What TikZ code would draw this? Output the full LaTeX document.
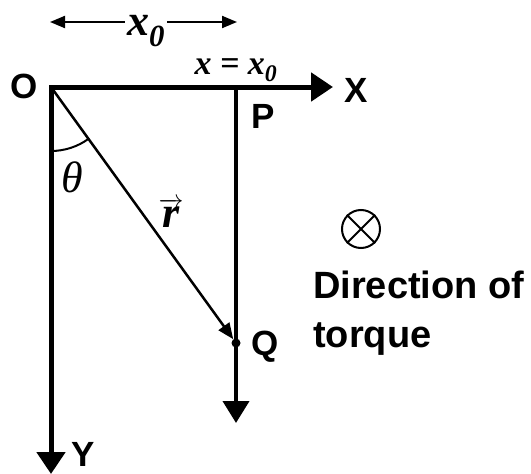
\documentclass[tikz,border=0pt]{standalone}
\usepackage{fontspec}
\setmainfont{Liberation Sans}
\newfontfamily\tqserif{Liberation Serif}
\usetikzlibrary{arrows.meta,calc}
\tikzset{
  every picture/.append style={line cap=butt,line join=miter},
  tq axis/.style={line width=5pt,arrows={Triangle[length=22pt,width=28pt]-Triangle[length=22pt,width=28pt]}},
  tq guide/.style={line width=4pt,-{Triangle[length=22pt,width=26pt]}},
  tq vector/.style={line width=2.5pt,-{Triangle[length=16pt,width=13pt]}},
  tq dim/.style={line width=2pt,-{Triangle[length=15pt,width=12pt]}},
  tq arc/.style={line width=2pt},
  tq dot/.style={circle,fill=black,inner sep=0pt,minimum size=9pt},
  tq label/.style={font=\fontsize{35}{35}\selectfont\bfseries,inner sep=0pt},
  tq math/.style={font=\fontsize{44}{44}\selectfont\tqserif\bfseries\itshape,inner sep=0pt},
  tq note/.style={font=\fontsize{38}{40}\selectfont\bfseries,inner sep=0pt,anchor=base west}
}
\begin{document}
\begin{tikzpicture}[x=1pt,y=1pt]
\useasboundingbox (0,0) rectangle (531,-474);
% axes and the line x = x0
\coordinate (O) at (51,-87);
\coordinate (Xtip) at (333,-87);
\coordinate (Ytip) at (51,-474);
\coordinate (P) at (236,-87);
\coordinate (Pend) at (236,-423);
\node[tq dot] (Q) at (236,-343) {};
\draw[tq axis] (Xtip) -- (O) -- (Ytip);
\draw[tq guide] (P) -- (Pend);
\draw[tq vector] (O) -- (Q);
\draw[tq arc] ([shift={(270:64)}]O) arc[start angle=270,end angle=306,radius=64pt];
% labels
\node[tq label] (Olbl) at (24,-86) {O};
\node[tq label] (Xlbl) at (356,-90) {X};
\node[tq label] (Ylbl) at (83,-454) {Y};
\node[tq label] (Plbl) at (263,-116) {P};
\node[tq label] (Qlbl) at (265,-347) {Q};
\node[font=\fontsize{44}{44}\selectfont\tqserif\itshape,inner sep=0pt] (theta) at (72,-177) {θ};
\node[tq math] (rlbl) at (171,-213) {$\overrightarrow{\mbox{r}}$};
\node[font=\fontsize{34}{34}\selectfont\tqserif\bfseries\itshape,inner sep=0pt] (line) at (236,-70) {x = x\textsubscript{0}};
% width x0
\coordinate (L) at (50,-22);
\coordinate (R) at (237,-22);
\node[tq math,anchor=base,inner xsep=2pt] (xdim) at (146,-35) {x\textsubscript{0}};
\draw[tq dim] (xdim.west |- L) -- (L);
\draw[tq dim] (xdim.east |- R) -- (R);
% torque direction
\node[circle,draw,line width=2pt,minimum size=38pt,inner sep=0pt] (into) at (361,-229) {};
\draw[line width=2pt] (into.north west) -- (into.south east);
\draw[line width=2pt] (into.north east) -- (into.south west);
\node[tq note] (dirlbl) at (313,-298) {Direction of};
\node[tq note] (torquelbl) at (313,-347) {torque};
\end{tikzpicture}
\end{document}
